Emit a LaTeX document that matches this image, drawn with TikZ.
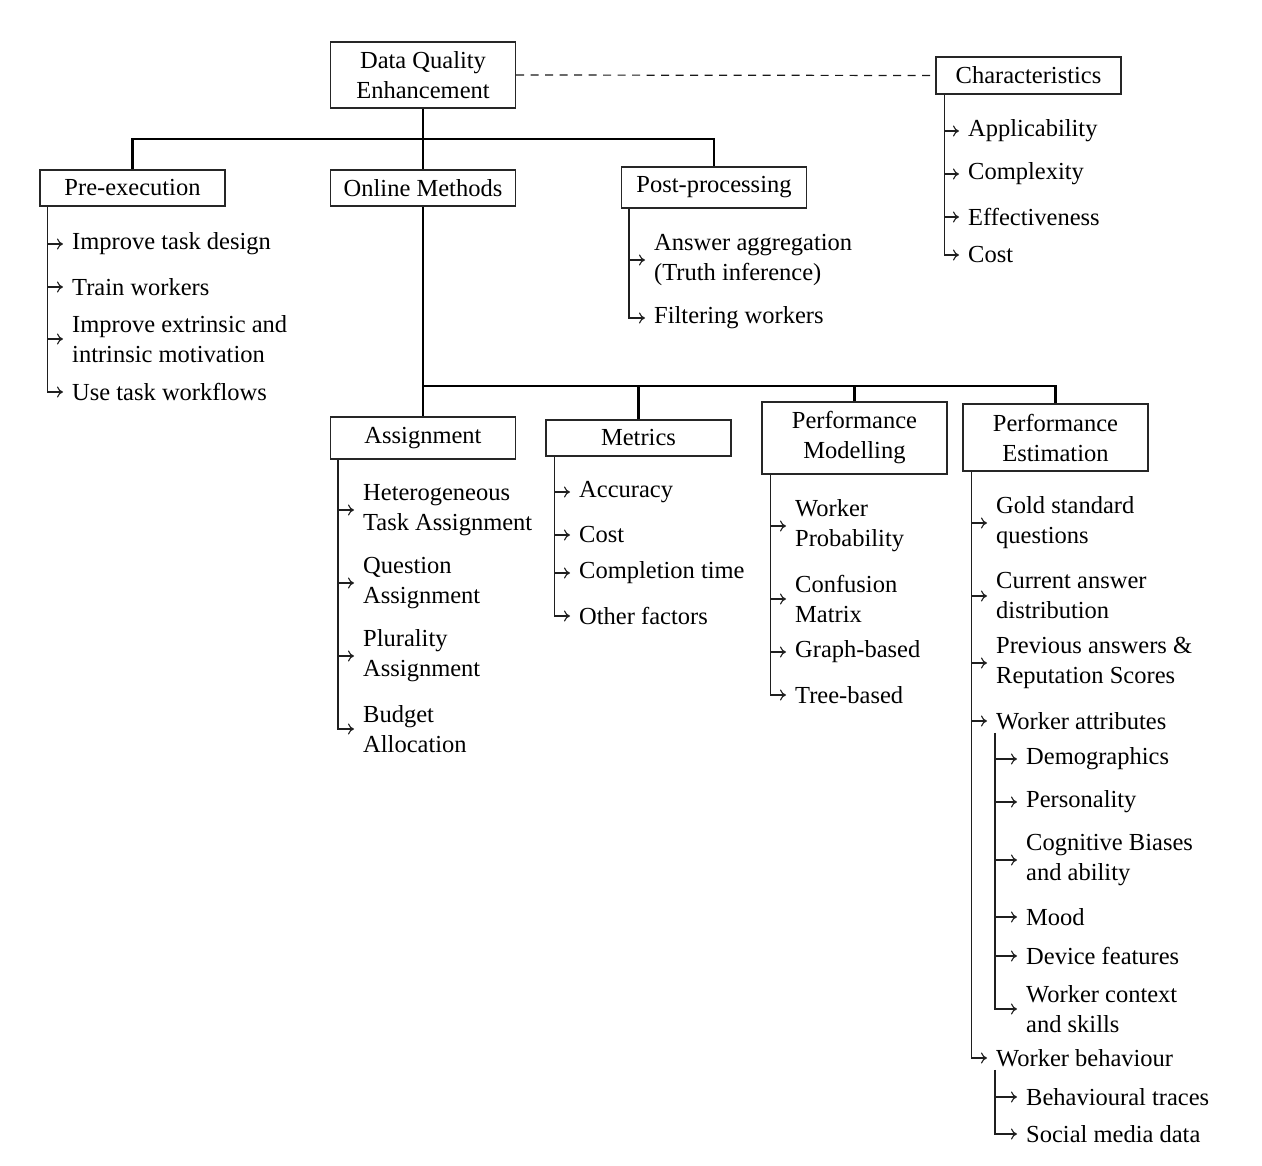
\documentclass[tikz,border=0pt]{standalone}
\usepackage{fontspec}
\setmainfont{Liberation Serif}
\usetikzlibrary{arrows.meta}
\newcommand\dqfont{\fontsize{24.5}{30}\selectfont}
\begin{document}
\begin{tikzpicture}[x=1pt,y=-1pt,
  box/.style={draw=black!85, line width=1.3pt, minimum width=185pt, align=center, inner sep=0pt, font=\dqfont},
  item/.style={anchor=west, align=left, inner xsep=9pt, inner ysep=0pt, font=\dqfont, yshift=-2pt},
  bus/.style={line width=2.7pt},
  br/.style={draw=black!88, line width=1.4pt},
  arr/.style={br, -{To[length=6pt,width=11pt,line width=1.1pt]}}]
\useasboundingbox (0,0) rectangle (1262,1166);

% boxes
\node[box, minimum height=66pt] (root) at (423,75) {Data Quality\\Enhancement};
\node[box, minimum height=37pt] (char) at (1028.5,75.5) {Characteristics};
\node[box, minimum height=36pt] (pre) at (132.5,188) {Pre-execution};
\node[box, minimum height=36pt] (online) at (423,188) {Online Methods};
\node[box, minimum height=41pt] (post) at (714,187.5) {Post-processing};
\node[box, minimum height=42pt] (assign) at (423,438) {Assignment};
\node[box, minimum height=36pt] (metrics) at (638.5,438) {Metrics};
\node[box, minimum height=72pt] (pm) at (854.5,438) {Performance\\Modelling};
\node[box, minimum height=67pt] (pe) at (1055.5,437.5) {Performance\\Estimation};

% buses
\coordinate (b1) at (0,139);
\coordinate (b2) at (0,386);
\draw[bus] (root.south) -- (online.north);
\draw[bus] (pre.north) -- (pre.north |- b1) -| (post.north);
\draw[bus] (online.south) -- (assign.north);
\draw[bus] (online.south |- b2) -| (pe.north);
\draw[bus] (metrics.north) -- (metrics.north |- b2);
\draw[bus] (pm.north) -- (pm.north |- b2);
\draw[line width=1.2pt, dash pattern=on 8pt off 6.5pt, draw=black!90] (root.east) -- (char.west);

% Characteristics
\node[item] (c1) at (959,129) {Applicability};
\node[item] (c2) at (959,172) {Complexity};
\node[item] (c3) at (959,215) {Effectiveness};
\node[item] (c4) at (959,253) {Cost};
\coordinate (chb) at ([xshift=9]char.south west);
\foreach \n in {c1,c2,c3} \draw[arr] (chb |- \n.west) -- (\n.west);
\draw[arr] (chb) |- (c4.west);

% Pre-execution
\node[item] (p1) at (63,242) {Improve task design};
\node[item] (p2) at (63,285) {Train workers};
\node[item] (p3) at (63,337) {Improve extrinsic and\\intrinsic motivation};
\node[item] (p4) at (63,390) {Use task workflows};
\coordinate (prb) at ([xshift=8]pre.south west);
\foreach \n in {p1,p2,p3} \draw[arr] (prb |- \n.west) -- (\n.west);
\draw[arr] (prb) |- (p4.west);

% Post-processing
\node[item] (q1) at (645,258) {Answer aggregation\\(Truth inference)};
\node[item] (q2) at (645,316) {Filtering workers};
\coordinate (pob) at ([xshift=8]post.south west);
\draw[arr] (pob |- q1.west) -- (q1.west);
\draw[arr] (pob) |- (q2.west);

% Assignment
\node[item] (a1) at (354,508) {Heterogeneous\\Task Assignment};
\node[item] (a2) at (354,581) {Question\\Assignment};
\node[item] (a3) at (354,654) {Plurality\\Assignment};
\node[item] (a4) at (354,727) {Budget\\Allocation};
\coordinate (asb) at ([xshift=8]assign.south west);
\foreach \n in {a1,a2,a3} \draw[arr] (asb |- \n.west) -- (\n.west);
\draw[arr] (asb) |- (a4.west);

% Metrics
\node[item] (m1) at (570,490) {Accuracy};
\node[item] (m2) at (570,533) {Cost};
\node[item] (m3) at (570,571) {Completion time};
\node[item] (m4) at (570,614) {Other factors};
\coordinate (meb) at ([xshift=9]metrics.south west);
\foreach \n in {m1,m2,m3} \draw[arr] (meb |- \n.west) -- (\n.west);
\draw[arr] (meb) |- (m4.west);

% Performance Modelling
\node[item] (d1) at (786,524) {Worker\\Probability};
\node[item] (d2) at (786,597) {Confusion\\Matrix};
\node[item] (d3) at (786,650) {Graph-based};
\node[item] (d4) at (786,693) {Tree-based};
\coordinate (pmb) at ([xshift=9]pm.south west);
\foreach \n in {d1,d2,d3} \draw[arr] (pmb |- \n.west) -- (\n.west);
\draw[arr] (pmb) |- (d4.west);

% Performance Estimation
\node[item] (e1) at (987,521) {Gold standard\\questions};
\node[item] (e2) at (987,594) {Current answer\\distribution};
\node[item] (e3) at (987,661) {Previous answers \&\\Reputation Scores};
\node[item] (e4) at (987,719) {Worker attributes};
\node[item] (e5) at (987,1056) {Worker behaviour};
\coordinate (peb) at ([xshift=9]pe.south west);
\foreach \n in {e1,e2,e3,e4} \draw[arr] (peb |- \n.west) -- (\n.west);
\draw[arr] (peb) |- (e5.west);

% Worker attributes
\node[item] (w1) at (1017,757) {Demographics};
\node[item] (w2) at (1017,800) {Personality};
\node[item] (w3) at (1017,858) {Cognitive Biases\\and ability};
\node[item] (w4) at (1017,915) {Mood};
\node[item] (w5) at (1017,954) {Device features};
\node[item] (w6) at (1017,1007) {Worker context\\and skills};
\coordinate (wab) at ([xshift=8,yshift=-3]e4.south west);
\foreach \n in {w1,w2,w3,w4,w5} \draw[arr] (wab |- \n.west) -- (\n.west);
\draw[arr] (wab) |- (w6.west);

% Worker behaviour
\node[item] (v1) at (1017,1095) {Behavioural traces};
\node[item] (v2) at (1017,1132) {Social media data};
\coordinate (wbb) at ([xshift=8,yshift=-3]e5.south west);
\draw[arr] (wbb |- v1.west) -- (v1.west);
\draw[arr] (wbb) |- (v2.west);
\end{tikzpicture}
\end{document}
